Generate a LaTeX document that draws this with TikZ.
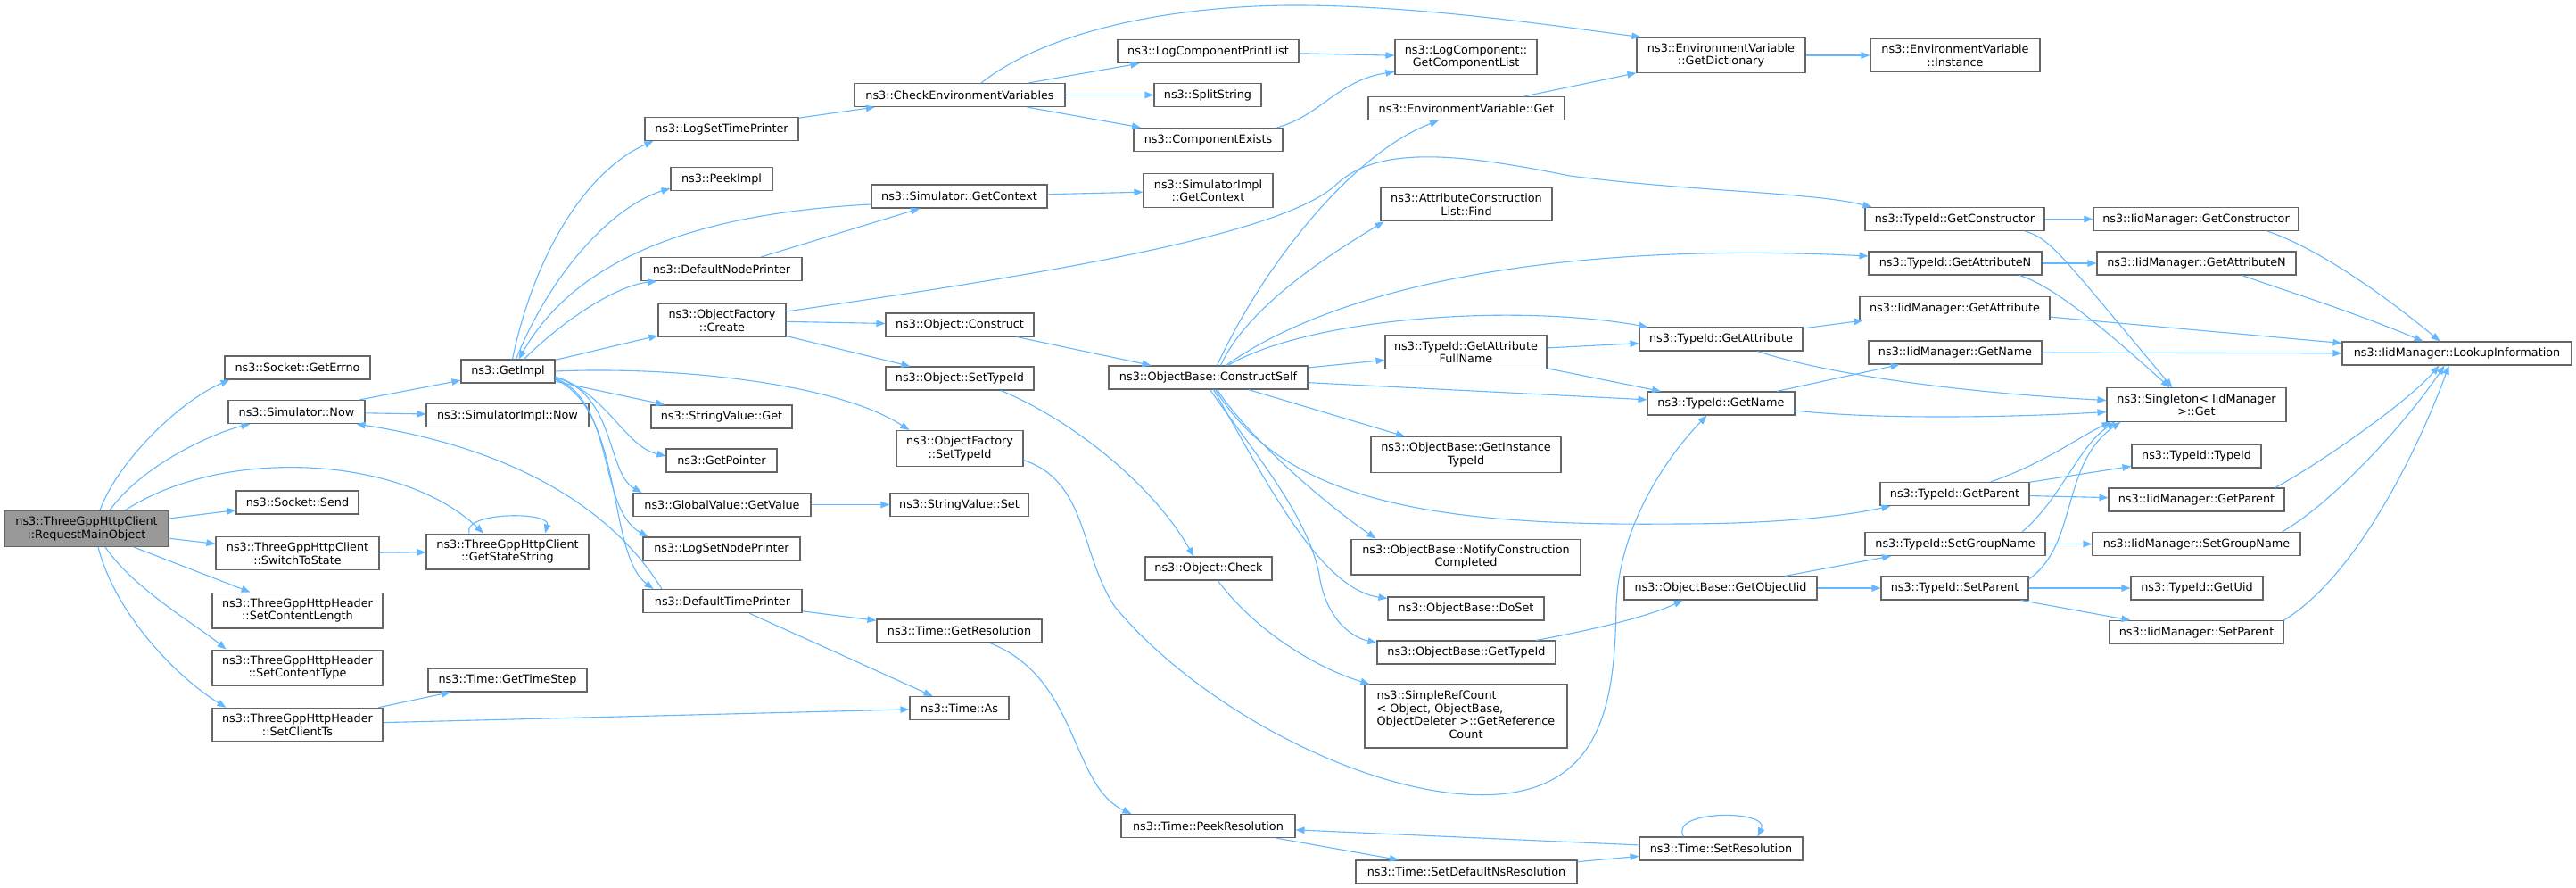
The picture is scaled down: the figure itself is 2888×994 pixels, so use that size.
\documentclass[tikz,border=0pt]{standalone}
\usepackage{fontspec}
\setmainfont{DejaVu Sans}
\usetikzlibrary{arrows.meta}
\definecolor{edgeblue}{HTML}{63B8FF}
\definecolor{boxgrey}{HTML}{666666}
\definecolor{maingrey}{HTML}{999999}

\begin{document}
\begin{tikzpicture}[x=1pt,y=-1pt,
  fn/.style={draw=boxgrey, fill=white, line width=1.1pt, inner xsep=2pt, inner ysep=6.5pt,
    minimum height=26pt, align=center, font=\fontsize{12.8}{14.5}\selectfont},
  mainfn/.style={fn, fill=maingrey},
  call/.style={edgeblue, line width=1.1pt, ->, >={Triangle[length=10pt,width=7.5pt]}}]
\useasboundingbox (0,0) rectangle (2888,994);
\fill[white] (0,0) rectangle (2888,994);

% caller
\node[mainfn, minimum width=184pt] (req) at (97,592.5) {ns3::ThreeGppHttpClient\\::RequestMainObject};
% column 1
\node[fn, minimum width=163pt] (errno) at (333.5,412) {ns3::Socket::GetErrno};
\node[fn, minimum width=153pt] (simnow) at (332.5,461.5) {ns3::Simulator::Now};
\node[fn, minimum width=137pt] (send) at (333.5,563) {ns3::Socket::Send};
\node[fn, minimum width=183pt] (switch) at (333.5,620) {ns3::ThreeGppHttpClient\\::SwitchToState};
\node[fn, minimum width=191pt] (clen) at (333.5,684) {ns3::ThreeGppHttpHeader\\::SetContentLength};
\node[fn, minimum width=191pt] (ctype) at (333.5,748) {ns3::ThreeGppHttpHeader\\::SetContentType};
\node[fn, minimum width=191pt] (cts) at (333.5,812) {ns3::ThreeGppHttpHeader\\::SetClientTs};
% column 2
\node[fn, minimum width=105pt] (getimpl) at (569.5,416) {ns3::GetImpl};
\node[fn, minimum width=182pt] (simimplnow) at (569,465.5) {ns3::SimulatorImpl::Now};
\node[fn, minimum width=182pt] (statestr) at (569,618) {ns3::ThreeGppHttpClient\\::GetStateString};
\node[fn, minimum width=178pt] (timestep) at (569,762) {ns3::Time::GetTimeStep};
% column 3
\node[fn, minimum width=172pt] (logsettime) at (809,144.5) {ns3::LogSetTimePrinter};
\node[fn, minimum width=114pt] (peekimpl) at (809,200.5) {ns3::PeekImpl};
\node[fn, minimum width=180pt] (defnode) at (809,301.5) {ns3::DefaultNodePrinter};
\node[fn, minimum width=143pt] (create) at (809.5,359) {ns3::ObjectFactory\\::Create};
\node[fn, minimum width=158pt] (strget) at (809,467) {ns3::StringValue::Get};
\node[fn, minimum width=124pt] (getptr) at (809,516) {ns3::GetPointer};
\node[fn, minimum width=199pt] (gvget) at (809.5,565.5) {ns3::GlobalValue::GetValue};
\node[fn, minimum width=176pt] (logsetnode) at (809,615) {ns3::LogSetNodePrinter};
\node[fn, minimum width=178pt] (deftime) at (810,673.5) {ns3::DefaultTimePrinter};
% column 4
\node[fn, minimum width=236pt] (checkenv) at (1076,106.5) {ns3::CheckEnvironmentVariables};
\node[fn, minimum width=197pt] (simctx) at (1075.5,220) {ns3::Simulator::GetContext};
\node[fn, minimum width=166pt] (construct) at (1076,364) {ns3::Object::Construct};
\node[fn, minimum width=166pt] (objsettype) at (1076,424) {ns3::Object::SetTypeId};
\node[fn, minimum width=142pt] (ofsettype) at (1076,502.5) {ns3::ObjectFactory\\::SetTypeId};
\node[fn, minimum width=155pt] (strset) at (1075.5,565.5) {ns3::StringValue::Set};
\node[fn, minimum width=185pt] (getres) at (1075.5,707) {ns3::Time::GetResolution};
\node[fn, minimum width=111pt] (timeas) at (1075.5,793.5) {ns3::Time::As};
% column 5
\node[fn, minimum width=203pt] (lcpl) at (1354.5,57.5) {ns3::LogComponentPrintList};
\node[fn, minimum width=120pt] (split) at (1354,106.5) {ns3::SplitString};
\node[fn, minimum width=167pt] (compex) at (1354.5,156.5) {ns3::ComponentExists};
\node[fn, minimum width=145pt] (simimplctx) at (1354.5,213.5) {ns3::SimulatorImpl\\::GetContext};
\node[fn, minimum width=223pt] (cself) at (1354.5,423) {ns3::ObjectBase::ConstructSelf};
\node[fn, minimum width=142pt] (check) at (1355,637) {ns3::Object::Check};
\node[fn, minimum width=195pt] (peekres) at (1354.5,925.5) {ns3::Time::PeekResolution};
% column 6
\node[fn, minimum width=159pt] (getcl) at (1643.5,64) {ns3::LogComponent::\\GetComponentList};
\node[fn, minimum width=220pt] (envget) at (1644,121.5) {ns3::EnvironmentVariable::Get};
\node[fn, minimum width=192pt] (acfind) at (1644,229) {ns3::AttributeConstruction\\List::Find};
\node[fn, minimum width=181pt] (gafull) at (1643.5,394.5) {ns3::TypeId::GetAttribute\\FullName};
\node[fn, minimum width=213pt] (ginst) at (1643.5,509.5) {ns3::ObjectBase::GetInstance\\TypeId};
\node[fn, minimum width=257pt] (notify) at (1643.5,624) {ns3::ObjectBase::NotifyConstruction\\Completed};
\node[fn, minimum width=175pt] (doset) at (1643.5,682) {ns3::ObjectBase::DoSet};
\node[fn, minimum width=200pt] (obgettype) at (1644,731) {ns3::ObjectBase::GetTypeId};
\node[fn, minimum width=227pt] (refcount) at (1643.5,802.5) {\begin{tabular}{@{}l@{}}ns3::SimpleRefCount\\< Object, ObjectBase,\\ObjectDeleter >::GetReference\\\multicolumn{1}{@{}c@{}}{Count}\end{tabular}};
\node[fn, minimum width=248pt] (defns) at (1644,977) {ns3::Time::SetDefaultNsResolution};
% column 7
\node[fn, minimum width=189pt] (getdict) at (1929.5,62) {ns3::EnvironmentVariable\\::GetDictionary};
\node[fn, minimum width=183pt] (tgetattr) at (1929.5,380) {ns3::TypeId::GetAttribute};
\node[fn, minimum width=165pt] (tgetname) at (1929.5,452) {ns3::TypeId::GetName};
\node[fn, minimum width=216pt] (objiid) at (1929,659) {ns3::ObjectBase::GetObjectIid};
\node[fn, minimum width=183pt] (setres) at (1929.5,951) {ns3::Time::SetResolution};
% column 8
\node[fn, minimum width=190pt] (instance) at (2192,62) {ns3::EnvironmentVariable\\::Instance};
\node[fn, minimum width=201pt] (tgetctor) at (2191.5,245.5) {ns3::TypeId::GetConstructor};
\node[fn, minimum width=194pt] (tgetattrn) at (2192,295) {ns3::TypeId::GetAttributeN};
\node[fn, minimum width=213pt] (igetattr) at (2191.5,345.5) {ns3::IidManager::GetAttribute};
\node[fn, minimum width=194pt] (igetname) at (2192,395) {ns3::IidManager::GetName};
\node[fn, minimum width=167pt] (tgetparent) at (2191.5,553.5) {ns3::TypeId::GetParent};
\node[fn, minimum width=202pt] (tsetgroup) at (2192,609.5) {ns3::TypeId::SetGroupName};
\node[fn, minimum width=165pt] (tsetparent) at (2191.5,659) {ns3::TypeId::SetParent};
% column 9
\node[fn, minimum width=230pt] (igetctor) at (2462,245.5) {ns3::IidManager::GetConstructor};
\node[fn, minimum width=223pt] (igetattrn) at (2462.5,295) {ns3::IidManager::GetAttributeN};
\node[fn, minimum width=201pt] (singleton) at (2462.5,453.5) {ns3::Singleton< IidManager\\>::Get};
\node[fn, minimum width=145pt] (typeidctor) at (2462.5,511) {ns3::TypeId::TypeId};
\node[fn, minimum width=197pt] (igetparent) at (2462.5,560) {ns3::IidManager::GetParent};
\node[fn, minimum width=233pt] (isetgroup) at (2462.5,609.5) {ns3::IidManager::SetGroupName};
\node[fn, minimum width=148pt] (getuid) at (2463,659) {ns3::TypeId::GetUid};
\node[fn, minimum width=195pt] (isetparent) at (2462.5,708.5) {ns3::IidManager::SetParent};
% column 10
\node[fn, minimum width=257pt] (lookup) at (2754.5,396) {ns3::IidManager::LookupInformation};

% calls of RequestMainObject
\draw[call] ([xshift=15pt]req.north) .. controls (130,520) and (200,450) .. ([xshift=6pt]errno.south west);
\draw[call] ([xshift=26pt]req.north) .. controls (160,520) and (240,485) .. ([xshift=25pt]simnow.south west);
\draw[call] ([xshift=43pt]req.north) .. controls (250,500) and (450,510) .. ([xshift=-27pt]statestr.north);
\draw[call] (req) -- (send);
\draw[call] (req) -- (switch);
\draw[call] (req) -- (clen);
\draw[call] ([xshift=21pt]req.south) .. controls (150,660) and (220,700) .. ([xshift=16pt]ctype.north west);
\draw[call] ([xshift=13pt]req.south) .. controls (130,690) and (200,760) .. ([xshift=16pt]cts.north west);
\draw[call] (switch) -- (statestr);
\draw[call] ([xshift=-43pt]statestr.north) .. controls (518,573) and (618,573) .. ([xshift=42pt]statestr.north);
\draw[call] (cts) -- (timestep);
\draw[call] (cts) -- (timeas);

% Simulator and GetImpl
\draw[call] (simnow) -- (getimpl);
\draw[call] (simnow) -- (simimplnow);
\draw[call] ([xshift=5pt]getimpl.north) .. controls (600,280) and (660,190) .. ([xshift=10pt]logsettime.south west);
\draw[call] ([xshift=9pt]getimpl.north) .. controls (620,300) and (690,230) .. ([yshift=3pt]peekimpl.south west);
\draw[call] ([xshift=18pt]getimpl.north) .. controls (630,360) and (690,320) .. ([xshift=18pt]defnode.south west);
\draw[call] (getimpl) -- (create);
\draw[call] (getimpl) -- (strget);
\draw[call] (getimpl.east) .. controls (760,410) and (940,430) .. ([xshift=15pt]ofsettype.north west);
\draw[call] ([yshift=-6pt]getimpl.east) .. controls (680,440) and (700,500) .. ([yshift=5pt]getptr.west);
\draw[call] ([yshift=-7pt]getimpl.east) .. controls (690,440) and (680,530) .. ([xshift=10pt]gvget.north west);
\draw[call] ([yshift=-8pt]getimpl.east) .. controls (690,450) and (670,570) .. ([xshift=6pt]logsetnode.north west);
\draw[call] ([yshift=-9pt]getimpl.east) .. controls (700,460) and (680,620) .. ([xshift=12pt]deftime.north west);
\draw[call] ([yshift=-9pt]simctx.west) .. controls (760,240) and (640,300) .. ([xshift=12pt]getimpl.north);
\draw[call] ([xshift=-68pt]deftime.north) .. controls (680,560) and (560,500) .. ([xshift=-10pt]simnow.south east);
\draw[call] (logsettime) -- (checkenv);
\draw[call] (defnode) -- (simctx);
\draw[call] (create) -- (construct);
\draw[call] (create) -- (objsettype);
\draw[call] ([yshift=10pt]create.east) .. controls (1150,310) and (1440,265) .. (1500,205) .. controls (1550,160) and (1650,175) .. (1760,197) .. controls (1900,215) and (2030,215) .. ([xshift=8pt]tgetctor.north west);
\draw[call] (gvget) -- (strset);
\draw[call] (deftime) -- (getres);
\draw[call] (deftime) -- (timeas);

% environment and log components
\draw[call] ([xshift=24pt]checkenv.north) .. controls (1180,30) and (1330,5) .. (1460,6) .. controls (1600,7) and (1750,30) .. ([xshift=5pt]getdict.north west);
\draw[call] (checkenv) -- (lcpl);
\draw[call] (checkenv) -- (split);
\draw[call] (checkenv) -- (compex);
\draw[call] (lcpl) -- (getcl);
\draw[call] ([xshift=77pt]compex.north) .. controls (1480,130) and (1500,90) .. ([yshift=4pt]getcl.south west);
\draw[call] (envget) -- (getdict);
\draw[call] (getdict) -- (instance);
\draw[call] (simctx) -- (simimplctx);

% object construction
\draw[call] (construct) -- (cself);
\draw[call] ([xshift=46pt]objsettype.south) .. controls (1200,470) and (1290,540) .. ([xshift=55pt]check.north west);
\draw[call] ([yshift=-13pt]ofsettype.east) .. controls (1220,540) and (1210,620) .. (1250,680) .. controls (1350,800) and (1550,900) .. (1680,890) .. controls (1800,880) and (1810,780) .. (1812,680) .. controls (1815,580) and (1880,500) .. ([xshift=-16pt]tgetname.south);
\draw[call] (check) .. controls (1410,710) and (1480,750) .. ([xshift=6pt]refcount.north west);
\draw[call] ([xshift=10pt]cself.north) .. controls (1420,290) and (1520,170) .. ([xshift=-31pt]envget.south);
\draw[call] ([xshift=14pt]cself.north) .. controls (1400,340) and (1500,280) .. ([xshift=4pt]acfind.south west);
\draw[call] ([xshift=20pt]cself.north) .. controls (1500,320) and (1750,270) .. ([yshift=8pt]tgetattrn.west);
\draw[call] ([xshift=22pt]cself.north) .. controls (1470,355) and (1700,340) .. ([xshift=10pt]tgetattr.north west);
\draw[call] (cself) -- (gafull);
\draw[call] (cself) -- (tgetname);
\draw[call] (cself) -- (ginst);
\draw[call] ([xshift=10pt]cself.south) .. controls (1400,490) and (1480,560) .. ([xshift=28pt]notify.north west);
\draw[call] ([xshift=6pt]cself.south) .. controls (1420,540) and (1480,660) .. ([yshift=-2pt]doset.north west);
\draw[call] ([xshift=2pt]cself.south) .. controls (1400,500) and (1470,580) .. (1480,650) .. controls (1490,700) and (1520,715) .. ([yshift=-3pt]obgettype.north west);
\draw[call] ([xshift=8pt]cself.south) .. controls (1440,560) and (1600,590) .. (1880,587) .. controls (1980,587) and (2060,580) .. ([xshift=12pt]tgetparent.south west);
\draw[call] ([xshift=78pt]obgettype.north) .. controls (1790,705) and (1850,690) .. ([xshift=66pt]objiid.south west);
\draw[call] (objiid) -- (tsetgroup);
\draw[call] (objiid) -- (tsetparent);

% time resolution
\draw[call] (getres) .. controls (1210,760) and (1200,880) .. ([xshift=12pt]peekres.north west);
\draw[call] (peekres) -- (defns);
\draw[call] (defns) -- (setres);
\draw[call] (setres) -- (peekres);
\draw[call] ([xshift=-42pt]setres.north) .. controls (1870,907) and (1985,907) .. ([xshift=41pt]setres.north);

% TypeId and IidManager
\draw[call] (gafull) -- (tgetattr);
\draw[call] (gafull) -- (tgetname);
\draw[call] (tgetattr) -- (igetattr);
\draw[call] ([xshift=41pt]tgetattr.south) .. controls (2050,420) and (2200,440) .. ([yshift=5pt]singleton.west);
\draw[call] (tgetname) -- (igetname);
\draw[call] ([yshift=-8pt]tgetname.east) .. controls (2100,470) and (2250,468) .. ([yshift=-8pt]singleton.west);
\draw[call] (tgetctor) -- (igetctor);
\draw[call] ([xshift=79pt]tgetctor.south) .. controls (2300,268) and (2310,285) .. ([xshift=-27pt]singleton.north);
\draw[call] (tgetattrn) -- (igetattrn);
\draw[call] ([xshift=72pt]tgetattrn.south) .. controls (2300,320) and (2350,360) .. ([xshift=-30pt]singleton.north);
\draw[call] (tgetparent) -- (typeidctor);
\draw[call] (tgetparent) -- (igetparent);
\draw[call] ([xshift=40pt]tgetparent.north) .. controls (2290,520) and (2330,490) .. ([xshift=5pt]singleton.south west);
\draw[call] (tsetgroup) -- (isetgroup);
\draw[call] ([xshift=75pt]tsetgroup.north) .. controls (2310,560) and (2330,500) .. ([xshift=10pt]singleton.south west);
\draw[call] (tsetparent) -- (getuid);
\draw[call] (tsetparent) -- (isetparent);
\draw[call] ([yshift=10pt]tsetparent.east) .. controls (2330,610) and (2310,520) .. ([xshift=16pt]singleton.south west);
\draw[call] (igetattr) -- (lookup);
\draw[call] (igetname) -- (lookup);
\draw[call] ([xshift=80pt]igetctor.south) .. controls (2590,275) and (2660,320) .. ([xshift=-19pt]lookup.north);
\draw[call] ([xshift=51pt]igetattrn.south) .. controls (2560,325) and (2640,350) .. ([xshift=-38pt]lookup.north);
\draw[call] ([xshift=88pt]igetparent.north) .. controls (2600,520) and (2700,450) .. ([xshift=-20pt]lookup.south);
\draw[call] ([xshift=96pt]isetgroup.north) .. controls (2620,560) and (2700,470) .. ([xshift=-14pt]lookup.south);
\draw[call] (isetparent.north east) .. controls (2650,640) and (2720,480) .. ([xshift=-9pt]lookup.south);
\end{tikzpicture}
\end{document}
